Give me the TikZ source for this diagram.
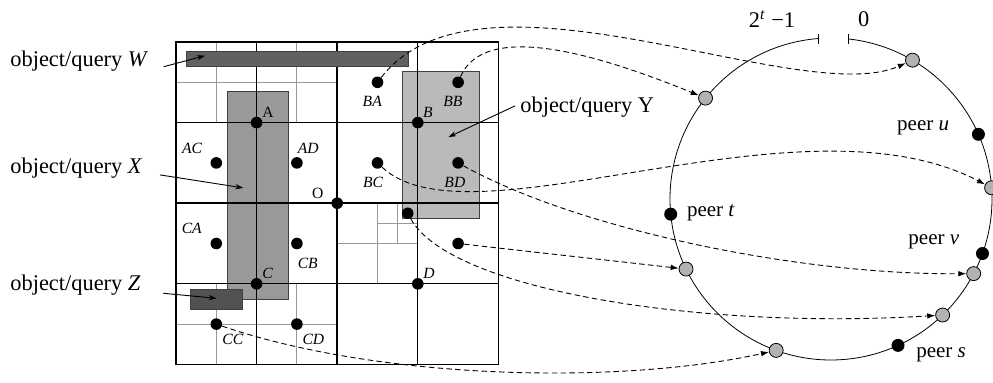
\documentclass[tikz,border=0pt]{standalone}
\usepackage{fontspec}
\setmainfont{Liberation Serif}
\usetikzlibrary{arrows.meta,positioning}
\tikzset{font={\fontsize{11.2pt}{13}\selectfont}}

\begin{document}
\begin{tikzpicture}[x=0.5pt, y=-0.5pt,
    gridfine/.style={black!40, line width=0.45pt},
    gridquarter/.style={black, line width=0.5pt},
    gridhalf/.style={black, line width=0.75pt},
    region/.style={draw=black!75, line width=0.5pt},
    cellpt/.style={circle, fill=black, inner sep=0pt, minimum size=5.8pt},
    ptname/.style={font={\fontsize{7.8pt}{9}\selectfont\itshape}, inner sep=0pt},
    keypt/.style={circle, draw=black, fill=black!30, line width=0.4pt, inner sep=0pt, minimum size=7pt},
    peerpt/.style={circle, fill=black, inner sep=0pt, minimum size=6.5pt},
    peername/.style={font={\fontsize{10.5pt}{12}\selectfont}, inner sep=0pt},
    objname/.style={inner sep=0pt, anchor=base west},
    pointer/.style={-{Stealth[length=4pt,width=2.6pt]}, line width=0.45pt},
    mapping/.style={dash pattern=on 2.7pt off 1.7pt, line width=0.45pt, -{Latex[length=4pt,width=2.8pt]}}]
\useasboundingbox (0,0) rectangle (993,382);

% space partition
\begin{scope}[shift={(176,42)}, x=20.15pt, y=-20.15pt]
  \filldraw[region, fill=black!40] (1.27,1.24) rectangle (2.78,6.38);
  \filldraw[region, fill=black!27] (5.63,0.74) rectangle (7.52,4.37);
  \draw[gridfine] (1,0) -- (1,2) (3,0) -- (3,2) (0,1) -- (4,1);
  \draw[gridfine] (1,6) -- (1,8) (3,6) -- (3,8) (0,7) -- (4,7);
  \draw[gridfine] (5,4) -- (5,6) (4,5) -- (6,5) (5.5,4) -- (5.5,5) (5,4.5) -- (6,4.5);
  \foreach \k in {2,6} {
    \draw[gridquarter] (\k,0) -- (\k,8);
    \draw[gridquarter] (0,\k) -- (8,\k);
  }
  \draw[gridhalf] (4,0) -- (4,8) (0,4) -- (8,4);
  \draw[gridhalf] (0,0) rectangle (8,8);
  \filldraw[region, fill=black!62] (0.25,0.24) rectangle (5.78,0.61);
  \filldraw[region, fill=black!68] (0.37,6.13) rectangle (1.64,6.63);

  \foreach \n/\x/\y in {A/2/2, B/6/2, C/2/6, D/6/6, O/4/4, AC/1/3, AD/3/3,
      BA/5/1, BB/7/1, BC/5/3, BD/7/3, CA/1/5, CB/3/5, CC/1/7, CD/3/7,
      E/5.75/4.25, F/7/5}
    \node[cellpt] (\n) at (\x,\y) {};

  \node[ptname] (nA) at (2.28,1.74) {\upshape A};
  \node[ptname] (nO) at (3.52,3.75) {\upshape O};
  \node[ptname] (nB) at (6.25,1.74) {B};
  \node[ptname] (nC) at (2.27,5.74) {C};
  \node[ptname] (nD) at (6.28,5.73) {D};
  \node[ptname] (nAC) at (0.4,2.63) {AC};
  \node[ptname] (nAD) at (3.28,2.63) {AD};
  \node[ptname] (nBA) at (4.87,1.48) {BA};
  \node[ptname] (nBB) at (6.87,1.48) {BB};
  \node[ptname] (nBC) at (4.89,3.49) {BC};
  \node[ptname] (nBD) at (6.92,3.49) {BD};
  \node[ptname] (nCA) at (0.39,4.62) {CA};
  \node[ptname] (nCB) at (3.27,5.49) {CB};
  \node[ptname] (nCC) at (1.41,7.37) {CC};
  \node[ptname] (nCD) at (3.41,7.37) {CD};

  \coordinate (tW) at (0.72,0.34);
  \coordinate (tX) at (1.67,3.62);
  \coordinate (tZ) at (1.01,6.36);
  \coordinate (tY) at (6.76,2.36);
\end{scope}

% objects and queries
\node[objname] (lW) at (10,66.7) {object/query \textit{W}};
\node[objname] (lX) at (10,173.3) {object/query \textit{X}};
\node[objname] (lZ) at (10,290.7) {object/query \textit{Z}};
\node[objname] (lY) at (520,112.3) {object/query Y};
\draw[pointer] ([xshift=7.5pt]lW.base east) -- (tW);
\draw[pointer] ([xshift=8.6pt,yshift=-0.8pt]lX.base east) -- (tX);
\draw[pointer] ([xshift=11.2pt,yshift=-1.3pt]lZ.base east) -- (tZ);
\draw[pointer] ([xshift=-2.5pt,yshift=3.2pt]lY.base west) -- (tY);

% identifier ring
\begin{scope}[shift={(831,199)}, y=0.5pt]
  \draw[line width=0.4pt] (94.6:161) arc[start angle=94.6, end angle=443.9, radius=161];
  \draw[line width=0.4pt] (94.6:161) ++(0,-5) -- ++(0,10);
  \draw[line width=0.4pt] (83.9:161) ++(0,-5) -- ++(0,10);
  \node[inner sep=0pt] (hi) at (-59,180) {2\textsuperscript{\textit{t}}\hspace{0.25em}−1};
  \node[inner sep=0pt] (lo) at (32.7,180) {0};

  \node[peerpt] (u) at (23.7:161) {};
  \node[peerpt] (t) at (185.4:161) {};
  \node[peerpt] (v) at (-19.8:161) {};
  \node[peerpt] (s) at (-65.4:161) {};

  \node[keypt] (kBA) at (59.6:161) {};
  \node[keypt] (kBB) at (141.2:161) {};
  \node[keypt] (kBC) at (4:161) {};
  \node[keypt] (kBD) at (-27.6:161) {};
  \node[keypt] (kE) at (-46.1:161) {};
  \node[keypt] (kF) at (205.8:161) {};
  \node[keypt] (kCC) at (250.1:161) {};
\end{scope}
\node[peername, left=11pt of u, yshift=3.5pt] (nu) {peer \textit{u}};
\node[peername, right=4.5pt of t, yshift=0.5pt] (nt) {peer \textit{t}};
\node[peername, left=8pt of v, yshift=6pt] (nv) {peer \textit{v}};
\node[peername, right=5.5pt of s, yshift=-4.5pt] (ns) {peer \textit{s}};

% cells mapped onto the ring
\draw[mapping] (BA) .. controls (480,-50) and (800,110) .. (kBA);
\draw[mapping] (BB) .. controls (485,20) and (600,55) .. (kBB);
\draw[mapping] (BC) .. controls (470,250) and (800,88) .. (kBC);
\draw[mapping] (BD) .. controls (580,230) and (800,275) .. (kBD);
\draw[mapping] (E) .. controls (450,290) and (700,330) .. (kE);
\draw[mapping] (F) -- (kF);
\draw[mapping] (CC) .. controls (380,380) and (620,385) .. (kCC);
\end{tikzpicture}
\end{document}
